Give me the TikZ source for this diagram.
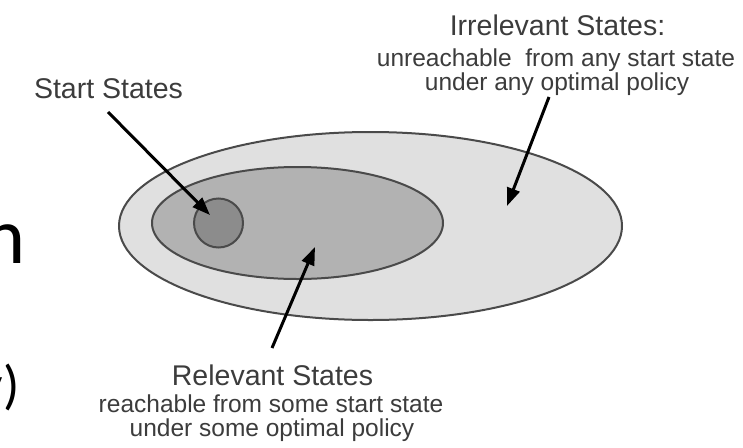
\documentclass[tikz,border=0pt]{standalone}
\usepackage{fontspec}
\setmainfont{Liberation Sans}
\newfontfamily\slidefont{Carlito}
\usetikzlibrary{arrows.meta,shapes.geometric}

\definecolor{irrfill}{HTML}{E0E0E0}
\definecolor{relfill}{HTML}{B2B2B2}
\definecolor{startfill}{HTML}{8C8C8C}
\definecolor{rim}{HTML}{4A4A4A}
\definecolor{labeltext}{HTML}{3C3C3C}

\begin{document}
\begin{tikzpicture}[x=1pt,y=-1pt,
  region/.style={ellipse, draw=rim, line width=2pt, inner sep=0pt},
  headline/.style={text=labeltext, font=\fontsize{28.5}{30}\selectfont, inner sep=0pt, anchor=base},
  subline/.style={text=labeltext, font=\fontsize{24.5}{26}\selectfont, inner sep=0pt, anchor=base},
  pointer/.style={line width=3pt, black, -{Triangle[length=18pt,width=13pt]}},
  slidetext/.style={text=black, inner sep=0pt, anchor=base east}]

\useasboundingbox (0,0) rectangle (743,447);
\fill[white] (0,0) rectangle (743,447);

% nested state sets
\node[region, fill=irrfill, minimum width=503pt, minimum height=188pt] (irr) at (370.5,226) {};
\node[region, fill=relfill, minimum width=291pt, minimum height=112pt] (rel) at (297.5,223) {};
\node[region, fill=startfill, minimum width=49pt, minimum height=49pt] (start) at (218.5,223) {};

% labels
\node[headline] (startlbl) at (108.5,98) {Start States};

\node[headline] (irrlbl) at (557.5,35) {Irrelevant States:};
\node[subline] (irrlblA) at (556,66) {unreachable\ \ from any start state};
\node[subline] (irrlblB) at (557,90) {under any optimal policy};

\node[headline] (rellbl) at (272.5,385) {Relevant States};
\node[subline] (rellblA) at (271,412) {reachable from some start state};
\node[subline] (rellblB) at (272,436) {under some optimal policy};

% pointers into the sets
\coordinate (startTail) at (108,112);
\coordinate (startTip) at (210,215);
\coordinate (irrTail) at (549,97);
\coordinate (irrTip) at (507,206);
\coordinate (relTail) at (272,348);
\coordinate (relTip) at (315,247);
\draw[pointer] (startTail) -- (startTip);
\draw[pointer] (irrTail) -- (irrTip);
\draw[pointer] (relTail) -- (relTip);

% slide text running in from the left
\node[slidetext, font=\slidefont\fontsize{80}{80}\selectfont] (slideA) at (26,263) {n};
\node[slidetext, font=\slidefont\fontsize{54}{54}\selectfont] (slideB) at (20,403) {y)};
\end{tikzpicture}
\end{document}
